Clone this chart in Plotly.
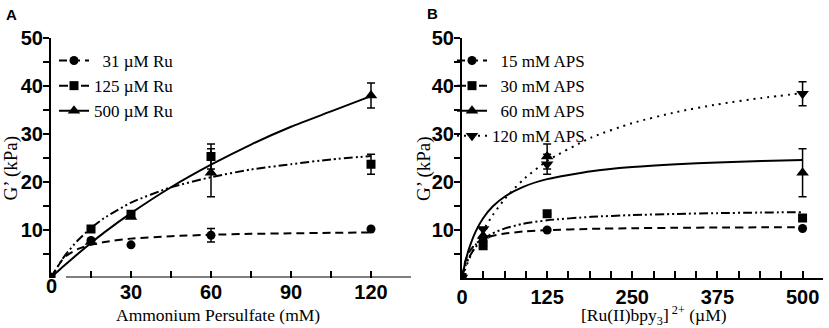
import plotly.graph_objects as go

W, H = 829, 328

# ---------------- Panel A data ----------------
A_x = [0, 15, 30, 60, 120]
A_names = ["\u00a0\u00a031 \u00b5M Ru", "125 \u00b5M Ru", "500 \u00b5M Ru"]
A_y31 = [0, 7.7, 6.8, 8.8, 10.1]
A_e31 = [None, None, None, 1.4, None]
A_y125 = [0, 10.1, 13.2, 25.2, 23.6]
A_e125 = [None, None, None, 2.6, 2.1]
A_y500 = [0, 7.4, 12.6, 21.8, 37.9]
A_e500 = [None, None, None, 5.0, 2.6]

# fitted curves
A_fx = [0, 5, 10, 15, 20, 30, 45, 60, 75, 90, 105, 120]
A_f31 = [0, 4.2, 5.9, 6.8, 7.4, 8.1, 8.6, 8.9, 9.1, 9.2, 9.3, 9.4]
A_f125 = [0, 4.4, 7.7, 10.3, 12.4, 15.6, 18.8, 20.9, 22.5, 23.6, 24.6, 25.3]
A_f500 = [0, 2.5, 4.9, 7.2, 9.4, 13.4, 18.8, 23.5, 27.7, 31.4, 34.6, 37.8]

A_xticks = [30, 60, 90, 120]
A_xminor = [15, 45, 75, 105]
A_xtop = [15, 30, 45, 60, 75, 90, 105, 120]

# ---------------- Panel B data ----------------
B_x = [0, 31, 125, 500]
B_names = ["\u00a0\u00a015 mM APS", "\u00a0\u00a030 mM APS", "\u00a0\u00a060 mM APS", "120 mM APS"]
B_y15 = [0, 7.7, 9.9, 10.2]
B_e15 = [None, None, None, None]
B_y30 = [0, 6.6, 13.3, 12.4]
B_e30 = [None, None, None, None]
B_y60 = [0, 8.7, 25.2, 21.8]
B_e60 = [None, 1.4, 2.6, 5.0]
B_y120 = [0, 10.1, 23.6, 38.3]
B_e120 = [None, None, 2.1, 2.5]

B_fx = [0, 5, 10, 20, 31, 45, 63, 90, 125, 190, 250, 315, 375, 440, 500]
B_f15 = [0, 3.45, 5.22, 7.02, 8.0, 8.68, 9.17, 9.58, 9.87, 10.14, 10.27, 10.35, 10.41, 10.45, 10.48]
B_f30 = [0, 2.38, 4.09, 6.36, 7.92, 9.19, 10.24, 11.19, 11.92, 12.64, 13.0, 13.25, 13.41, 13.53, 13.62]
B_f60 = [0, 3.29, 5.85, 9.56, 12.34, 14.78, 16.88, 18.89, 20.49, 22.15, 23.0, 23.59, 23.97, 24.28, 24.5]
B_f120 = [0, 1.9, 3.66, 6.8, 9.77, 12.98, 16.39, 20.4, 24.29, 29.17, 32.16, 34.47, 36.06, 37.4, 38.4]

B_xticks = [0, 125, 250, 375, 500]
B_xminor = [31.25, 62.5, 93.75, 156.25, 187.5, 218.75, 281.25, 312.5, 343.75, 406.25, 437.5, 468.75]
B_xtop = [31.25 * i for i in range(1, 17)]

Y_ticks = [10, 20, 30, 40, 50]
Y_minor = [5, 15, 25, 35, 45]
Y_right = [5, 10, 15, 20, 25, 30, 35, 40, 45]

# ---------------- styles ----------------
DASH = "8px,5px"
DASHDOT2 = "9px,3px,2px,3px,2px,3px"
DOT = "2px,5px"
SERIF = "Liberation Serif"
SANS = "Liberation Sans"

def px2x(p):
    return p / W

def px2y(p):
    return 1 - p / H

A_dom = [px2x(51), px2x(411)]
B_dom = [px2x(462), px2x(823)]
Y_dom = [px2y(277.5), px2y(37.5)]

fig = go.Figure()

def add_series(x, y, err, fx, fy, name, symbol, msize, dash, xa, ya, legend):
    fig.add_trace(go.Scatter(x=fx, y=fy, mode="lines", line=dict(color="black", width=2, dash=dash, shape="spline", smoothing=0.6),
                             xaxis=xa, yaxis=ya, showlegend=False, hoverinfo="skip"))
    fig.add_trace(go.Scatter(x=x, y=y, mode="markers",
                             marker=dict(symbol=symbol, size=msize, color="black"),
                             error_y=dict(type="data", array=err, visible=True, color="black", thickness=1.5, width=4),
                             xaxis=xa, yaxis=ya, showlegend=False))
    fig.add_trace(go.Scatter(x=[None], y=[None], mode="lines+markers", name=name,
                             line=dict(color="black", width=2, dash=dash),
                             marker=dict(symbol=symbol, size=msize, color="black"),
                             xaxis=xa, yaxis=ya, legend=legend, showlegend=True))

add_series(A_x, A_y31, A_e31, A_fx, A_f31, A_names[0], "circle", 9, DASH, "x", "y", "legend")
add_series(A_x, A_y125, A_e125, A_fx, A_f125, A_names[1], "square", 9, DASHDOT2, "x", "y", "legend")
add_series(A_x, A_y500, A_e500, A_fx, A_f500, A_names[2], "triangle-up", 11, "solid", "x", "y", "legend")

add_series(B_x, B_y15, B_e15, B_fx, B_f15, B_names[0], "circle", 9, DASH, "x2", "y2", "legend2")
add_series(B_x, B_y30, B_e30, B_fx, B_f30, B_names[1], "square", 9, DASHDOT2, "x2", "y2", "legend2")
add_series(B_x, B_y60, B_e60, B_fx, B_f60, B_names[2], "triangle-up", 11, "solid", "x2", "y2", "legend2")
add_series(B_x, B_y120, B_e120, B_fx, B_f120, B_names[3], "triangle-down", 11, DOT, "x2", "y2", "legend2")

tickfont = dict(family=SANS, size=20, color="black", weight="bold")
common = dict(showgrid=False, zeroline=False, tickcolor="black", tickwidth=2, linecolor="black",
              linewidth=2, automargin=False)

def bottom_axis(dom, rng, tv, mv, yanchor, showline):
    return dict(domain=dom, range=rng, anchor=yanchor, showline=showline, ticks="inside", ticklen=7,
                tickvals=tv, ticktext=[str(v) for v in tv], tickfont=tickfont,
                minor=dict(ticks="inside", tickvals=mv, ticklen=7, tickwidth=2, tickcolor="black"), **common)

def top_axis(over, rng, tv, yanchor):
    return dict(overlaying=over, side="top", anchor=yanchor, range=rng, ticks="inside", ticklen=7,
                tickvals=tv, showticklabels=False, showline=True, **common)

def left_axis(anchor):
    return dict(domain=Y_dom, range=[0, 50], anchor=anchor, showline=True, ticks="outside", ticklen=6,
                tickvals=Y_ticks, ticktext=[str(v) for v in Y_ticks], tickfont=tickfont, ticklabelstandoff=-4,
                minor=dict(ticks="outside", tickvals=Y_minor, ticklen=6, tickwidth=2, tickcolor="black"), **common)

def right_axis(over, anchor):
    return dict(overlaying=over, side="right", anchor=anchor, range=[0, 50], ticks="inside", ticklen=6,
                tickvals=Y_right, showticklabels=False, showline=True, **common)

fig.update_layout(
    template="none",
    width=W, height=H, margin=dict(l=0, r=0, t=0, b=0, pad=0, autoexpand=False),
    plot_bgcolor="white", paper_bgcolor="white",
    xaxis=bottom_axis(A_dom, [0, 135], A_xticks, A_xminor, "y", False),
    xaxis3=top_axis("x", [0, 135], A_xtop, "y"),
    yaxis=left_axis("x"),
    yaxis3=right_axis("y", "x"),
    xaxis2=bottom_axis(B_dom, [0, 530], B_xticks, B_xminor, "y2", True),
    xaxis4=top_axis("x2", [0, 530], B_xtop, "y2"),
    yaxis2=left_axis("x2"),
    yaxis4=right_axis("y2", "x2"),
    legend=dict(x=px2x(54), y=px2y(43), xanchor="left", yanchor="top", bgcolor="rgba(0,0,0,0)",
                font=dict(family=SERIF, size=17, color="black"), tracegroupgap=0, itemwidth=30),
    legend2=dict(x=px2x(452), y=px2y(43), xanchor="left", yanchor="top", bgcolor="rgba(0,0,0,0)",
                 font=dict(family=SERIF, size=17, color="black"), tracegroupgap=0, itemwidth=30),
    showlegend=True,
)

# bottom axis line of panel A (starts a little right of the origin, as in the original)
fig.add_shape(type="line", xref="x", yref="y", x0=5.6, x1=135, y0=0, y1=0,
              line=dict(color="black", width=2))

def pann(text, xp, yp, font, angle=0):
    return dict(text=text, x=px2x(xp), y=px2y(yp), xref="paper", yref="paper", xanchor="center",
                yanchor="middle", showarrow=False, textangle=angle, font=font)

serif17 = dict(family=SERIF, size=17.5, color="black")
serif19 = dict(family=SERIF, size=19, color="black")
letter = dict(family=SANS, size=15, color="black", weight="bold")
ann = [
    dict(text="0", x=0, y=0, xref="x", yref="y", yshift=-8, xanchor="center", yanchor="middle",
         showarrow=False, font=tickfont),
    pann("A", 11, 14, letter),
    pann("B", 432, 13, letter),
    pann("Ammonium Persulfate (mM)", 217.5, 315, serif17),
    pann("[Ru(II)bpy<sub>3</sub>]<sup> 2+</sup> (\u00b5M)", 654, 315, serif17),
    pann("G\u2019 (kPa)", 10, 168.5, serif19, -90),
    pann("G\u2019 (kPa)", 424, 169, serif19, -90),
]
fig.update_layout(annotations=ann)

fig.write_html("out.html", config={"displayModeBar": False},
               post_script="document.body.style.margin='0';document.body.style.padding='0';document.body.style.overflow='hidden';")
